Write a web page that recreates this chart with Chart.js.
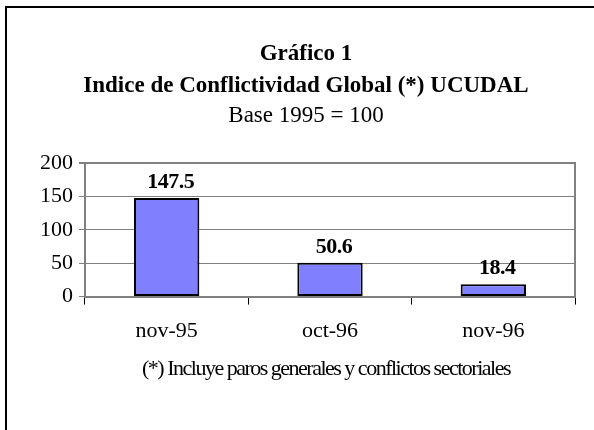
<!DOCTYPE html>
<html>
<head>
<meta charset="utf-8">
<script src="https://cdn.jsdelivr.net/npm/chart.js@4/dist/chart.umd.min.js"></script>
<style>
  body { margin: 0; background: #fff; }
  .frame { position: absolute; left: 5px; top: 6px; width: 700px; height: 500px; border-left: 2px solid #000; border-top: 2px solid #000; }
  #chart { position: absolute; left: 0; top: 0; }
</style>
</head>
<body>
<div class="frame"></div>
<canvas id="chart" width="594" height="430"></canvas>
<script>
const categories = ['nov-95', 'oct-96', 'nov-96'];
const indexValues = [147.5, 50.6, 18.4];
const yTicks = [0, 50, 100, 150, 200];
const titleLines = ['Gráfico 1', 'Indice de Conflictividad Global (*) UCUDAL'];
const subtitleText = 'Base 1995 = 100';
const footnote = '(*) Incluye paros generales y conflictos sectoriales';

const serif = 'Liberation Serif, Times New Roman, serif';

// numbers above bars
const valueLabels = {
  id: 'valueLabels',
  afterDatasetsDraw(chart) {
    const ctx = chart.ctx;
    const meta = chart.getDatasetMeta(0);
    ctx.save();
    ctx.font = 'bold 22px ' + serif;
    ctx.letterSpacing = '-0.5px';
    ctx.fillStyle = '#000';
    ctx.textAlign = 'center';
    ctx.textBaseline = 'alphabetic';
    meta.data.forEach((bar, i) => {
      ctx.fillText(indexValues[i].toFixed(1), bar.x + 4, bar.y - 10);
    });
    ctx.restore();
  }
};

// right edge of plot + footnote
const frameAndNote = {
  id: 'frameAndNote',
  afterDraw(chart) {
    const ctx = chart.ctx;
    const a = chart.chartArea;
    ctx.save();
    ctx.strokeStyle = '#808080';
    ctx.lineWidth = 2;
    ctx.beginPath();
    ctx.moveTo(a.right, a.top - 1);
    ctx.lineTo(a.right, a.bottom);
    ctx.stroke();

    ctx.font = '22px ' + serif;
    ctx.letterSpacing = '-1.5px';
    ctx.fillStyle = '#000';
    ctx.textAlign = 'center';
    ctx.fillText(footnote, (a.left + a.right) / 2 - 4, a.bottom + 78);
    ctx.restore();
  }
};

new Chart(document.getElementById('chart'), {
  type: 'bar',
  data: {
    labels: categories,
    datasets: [{
      data: indexValues,
      backgroundColor: '#8080FF',
      borderColor: '#000',
      borderWidth: 2,
      borderSkipped: false,
      categoryPercentage: 1,
      barPercentage: 0.4
    }]
  },
  options: {
    responsive: false,
    animation: false,
    devicePixelRatio: 1,
    layout: {
      padding: { top: 38, left: 37, right: 19, bottom: 73 }
    },
    plugins: {
      legend: { display: false },
      tooltip: { enabled: false },
      title: {
        display: true,
        text: titleLines,
        color: '#000',
        font: { family: serif, size: 23, weight: 'bold', lineHeight: 32 / 23 },
        padding: { top: 0, bottom: 0 }
      },
      subtitle: {
        display: true,
        text: subtitleText,
        color: '#000',
        font: { family: serif, size: 23, weight: 'normal', lineHeight: 28 / 23 },
        padding: { top: 0, bottom: 33 }
      }
    },
    scales: {
      x: {
        grid: {
          offset: true,
          drawOnChartArea: false,
          drawTicks: true,
          tickLength: 8,
          tickColor: '#000'
        },
        border: { color: '#808080', width: 2 },
        ticks: {
          color: '#000',
          padding: 13,
          font: { family: serif, size: 22 }
        }
      },
      y: {
        min: 0,
        max: 200,
        afterFit(scale) { scale.width = 48; },
        afterBuildTicks(scale) { scale.ticks = yTicks.map(v => ({ value: v })); },
        grid: {
          color: '#808080',
          lineWidth: ctx => (ctx.tick && ctx.tick.value === 200 ? 2 : 1),
          tickLength: 6,
          tickColor: '#808080'
        },
        border: { color: '#808080', width: 2 },
        ticks: {
          color: '#000',
          padding: 6,
          font: { family: serif, size: 22 }
        }
      }
    }
  },
  plugins: [valueLabels, frameAndNote]
});
</script>
</body>
</html>
